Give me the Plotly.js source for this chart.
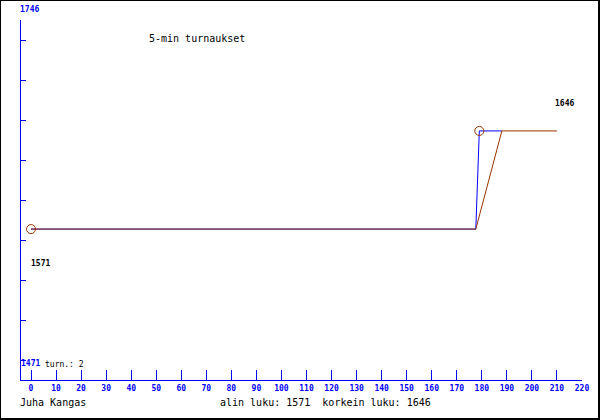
<!DOCTYPE html>
<html>
<head>
<meta charset="utf-8">
<script src="https://cdn.plot.ly/plotly-3.0.1.min.js"></script>
<style>
  html, body { margin: 0; padding: 0; background: #ffffff; }
  #chart { width: 600px; height: 420px; }
</style>
</head>
<body>
<div id="chart"></div>
<script>
// ---- data ----
const blueX  = [0, 177.6, 179, 188];
const blueY  = [1571, 1571, 1646, 1646];
const brownX = [0, 177.6, 188, 210];
const brownY = [1571, 1571, 1646, 1646];
const pointX = [0, 179];
const pointY = [1571, 1646];

const lowValue = 1571;
const highValue = 1646;
const scaleLow = 1471;   // label at bottom of y axis
const scaleHigh = 1746;  // label at top of y axis
const tournamentCount = 2;

const titleText = "5-min turnaukset";
const authorText = "Juha Kangas";
const summaryText = "alin luku: " + lowValue + "\u00a0 korkein luku: " + highValue;
const countText = "turn.: " + tournamentCount;

// ---- layout geometry ----
const W = 600, H = 420;
const M = {l: 21, r: 18, t: 20, b: 40};
const PW = W - M.l - M.r, PH = H - M.t - M.b;
const px = x => (x - M.l) / PW;
const py = y => (H - M.b - y) / PH;

const step = (scaleHigh - scaleLow) / 9;
const yRange = [scaleLow - step / 2, scaleHigh - step / 2];

const BLUE = "#0000ff";
const BROWN = "#993300";
const MONO = "DejaVu Sans Mono, monospace";

const traces = [
  {x: blueX, y: blueY, type: "scatter", mode: "lines",
   line: {color: BLUE, width: 1}, hoverinfo: "skip"},
  {x: brownX, y: brownY, type: "scatter", mode: "lines",
   line: {color: BROWN, width: 1}, hoverinfo: "skip"},
  {x: pointX, y: pointY, type: "scatter", mode: "markers",
   marker: {symbol: "circle-open", size: 9, color: BROWN, line: {color: BROWN, width: 1}},
   hoverinfo: "skip"}
];

function ann(text, x, y, opts) {
  return Object.assign({
    text: text, x: x, y: y, xref: "paper", yref: "paper",
    showarrow: false, xanchor: "left", yanchor: "middle",
    borderpad: 0,
    font: {family: MONO, size: 8, color: "#000000"}
  }, opts || {});
}

const annotations = [
  ann(String(scaleHigh), px(19), py(9), {font: {family: MONO, size: 8, color: BLUE, weight: "bold"}}),
  ann(String(scaleLow), px(20), py(363.5), {font: {family: MONO, size: 8, color: BLUE, weight: "bold"}}),
  ann(countText, px(44), py(364), {font: {family: MONO, size: 8, color: "#000000"}}),
  ann(String(lowValue), px(30), py(263.5), {font: {family: MONO, size: 8, color: "#000000", weight: "bold"}}),
  ann(String(highValue), px(554), py(103.5), {font: {family: MONO, size: 8, color: "#000000", weight: "bold"}}),
  ann(titleText, px(197), py(38), {xanchor: "center", font: {family: MONO, size: 10, color: "#000000"}}),
  ann(authorText, px(19), py(402), {font: {family: MONO, size: 10, color: "#000000"}}),
  ann(summaryText, px(219), py(402), {font: {family: MONO, size: 10, color: "#000000"}})
];

const shapes = [
  {type: "line", xref: "paper", yref: "paper", x0: px(0.5), x1: px(0.5), y0: py(0), y1: py(420), line: {color: "#000", width: 1}},
  {type: "line", xref: "paper", yref: "paper", x0: px(0), x1: px(600), y0: py(0.5), y1: py(0.5), line: {color: "#000", width: 1}},
  {type: "line", xref: "paper", yref: "paper", x0: px(599), x1: px(599), y0: py(0), y1: py(420), line: {color: "#000", width: 2}},
  {type: "line", xref: "paper", yref: "paper", x0: px(0), x1: px(600), y0: py(419), y1: py(419), line: {color: "#000", width: 2}}
];

const layout = {
  width: W, height: H,
  margin: M,
  paper_bgcolor: "#ffffff", plot_bgcolor: "#ffffff",
  showlegend: false,
  xaxis: {
    range: [-4, 220], tick0: 0, dtick: 10, tickmode: "linear",
    showgrid: false, zeroline: false,
    showline: true, linecolor: BLUE, linewidth: 1,
    ticks: "inside", ticklen: 10, tickwidth: 1, tickcolor: BLUE,
    tickfont: {family: MONO, size: 8, color: BLUE, weight: "bold"},
    fixedrange: true
  },
  yaxis: {
    range: yRange, tick0: scaleLow, dtick: step, tickmode: "linear",
    showgrid: false, zeroline: false,
    showline: true, linecolor: BLUE, linewidth: 1,
    ticks: "inside", ticklen: 5, tickwidth: 1, tickcolor: BLUE,
    showticklabels: false,
    fixedrange: true
  },
  annotations: annotations,
  shapes: shapes
};

Plotly.newPlot("chart", traces, layout, {displayModeBar: false, staticPlot: true});
</script>
</body>
</html>
